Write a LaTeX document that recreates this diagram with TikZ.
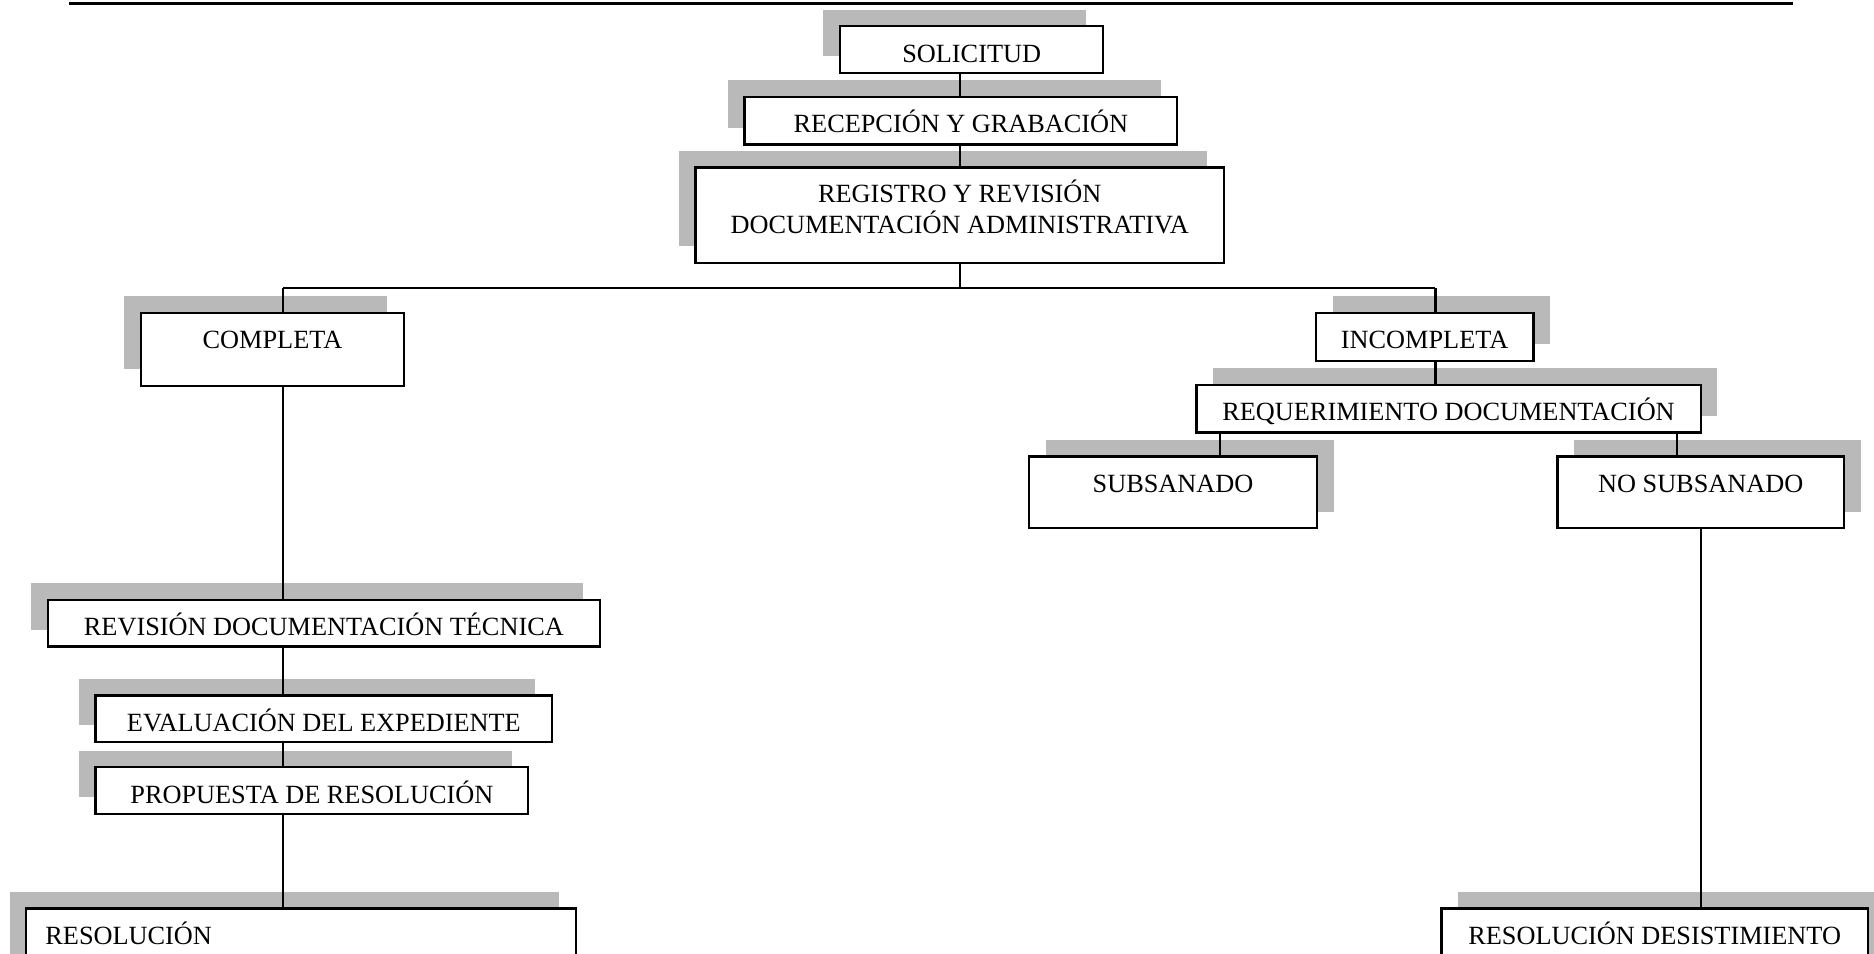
\documentclass[tikz,border=0pt]{standalone}
\usepackage{fontspec}
\setmainfont{Liberation Serif}
\usepackage{tikz}
\usetikzlibrary{positioning,shadows}

\begin{document}
\begin{tikzpicture}
	\tikzstyle{box}
	  =[draw, rectangle, fill=white, line width=1pt, inner sep=0pt,
	  outer sep=0pt, font=\fontsize{11}{13}\selectfont,
	  text height=15pt, text depth=5pt]
	\tikzstyle{shl}
	  =[drop shadow={shadow xshift=-7pt, shadow yshift=7pt, fill=gray!55, opacity=1}]
	\tikzstyle{shr}
	  =[drop shadow={shadow xshift=7pt, shadow yshift=7pt, fill=gray!55, opacity=1}]
	\tikzstyle{link}=[line width=1pt]

	\useasboundingbox (0,0) rectangle (784pt,-399pt);
	\clip (0,0) rectangle (784pt,-399pt);

	\coordinate (ruleL) at (29pt,-1.5pt);
	\coordinate (ruleR) at (750pt,-1.5pt);
	\draw[line width=1.4pt] (ruleL)--(ruleR);

	% tronco
	\node[box, shl, minimum width=110pt, text depth=4.5pt] (sol)
	  at (406.5pt,-11pt) [anchor=north] {SOLICITUD};
	\node[box, shl, minimum width=181pt] (rec)
	  [below=10pt of sol, xshift=-4.5pt] {RECEPCIÓN Y GRABACIÓN};
	\node[box, shl, minimum width=221pt, minimum height=40pt,
	  text height=, text depth=, align=center] (reg)
	  [below=9.5pt of rec, xshift=-0.5pt]
	  {REGISTRO Y REVISIÓN\\DOCUMENTACIÓN ADMINISTRATIVA\rule[-7pt]{0pt}{7pt}};
	\coordinate[below=10.5pt of reg.south] (trunk);
	\coordinate[left=283pt of trunk] (cleft);
	\coordinate[right=199pt of trunk] (cright);

	% rama completa
	\node[box, shl, minimum width=110pt, text depth=15.5pt] (comp)
	  [below left=21pt and 122pt of reg] {COMPLETA};
	\node[box, shl, minimum width=231pt, text depth=4.5pt] (rdt)
	  [below=89.5pt of comp, xshift=21.5pt] {REVISIÓN DOCUMENTACIÓN TÉCNICA};
	\node[box, shl, minimum width=191pt, text depth=4.5pt] (eval)
	  [below=20.5pt of rdt] {EVALUACIÓN DEL EXPEDIENTE};
	\node[box, shl, minimum width=181pt, text depth=4.5pt] (prop)
	  [below=10.5pt of eval, xshift=-5pt] {PROPUESTA DE RESOLUCIÓN};
	\node[box, shl, text width=214pt, inner xsep=8pt, align=left,
	  text depth=25pt] (res)
	  [below=39.5pt of prop, xshift=-4.5pt] {RESOLUCIÓN};

	% rama incompleta
	\node[box, shr, minimum width=91pt] (incomp)
	  [below right=21pt and 38.5pt of reg] {INCOMPLETA};
	\node[box, shr, minimum width=211pt] (req)
	  [below=10pt of incomp, xshift=10pt] {REQUERIMIENTO DOCUMENTACIÓN};
	\coordinate[right=10pt of req.south west] (reqa);
	\coordinate[left=10pt of req.south east] (reqb);
	\node[box, shr, minimum width=120.5pt, text depth=15pt] (sub)
	  [below=10pt of req, xshift=-115.25pt] {SUBSANADO};
	\node[box, shr, minimum width=120pt, text depth=15pt] (nosub)
	  [below=10pt of req, xshift=105.5pt] {NO SUBSANADO};
	\node[box, shr, minimum width=178.5pt, text depth=25pt] (desist)
	  [below=159pt of nosub, xshift=-19.25pt] {RESOLUCIÓN DESISTIMIENTO};

	\draw[link] (sol.south -| trunk)--(rec.north -| trunk);
	\draw[link] (rec.south -| trunk)--(reg.north -| trunk);
	\draw[link] (reg.south -| trunk)--(trunk);
	\draw[link] (cleft)--(cright);
	\draw[link] (cleft)--(comp.north -| cleft);
	\draw[link] (comp.south -| cleft)--(rdt.north -| cleft);
	\draw[link] (rdt.south -| cleft)--(eval.north -| cleft);
	\draw[link] (eval.south -| cleft)--(prop.north -| cleft);
	\draw[link] (prop.south -| cleft)--(res.north -| cleft);
	\draw[link] (cright)--(incomp.north -| cright);
	\draw[link] (incomp.south -| cright)--(req.north -| cright);
	\draw[link] (reqa)--(sub.north -| reqa);
	\draw[link] (reqb)--(nosub.north -| reqb);
	\draw[link] (nosub.south)--(desist.north -| nosub.south);
\end{tikzpicture}
\end{document}
